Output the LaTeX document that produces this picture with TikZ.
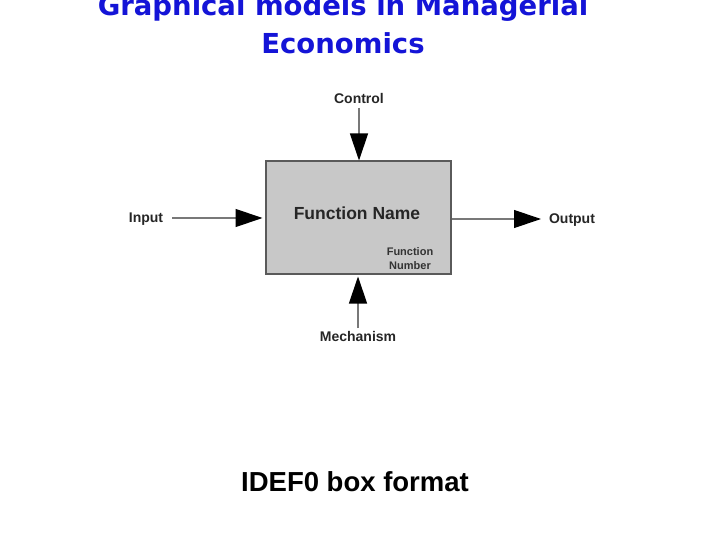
\documentclass[tikz,border=0pt]{standalone}
\usepackage{fontspec}
\setmainfont{DejaVu Sans}
\newfontfamily\arialfont{Liberation Sans}
\usetikzlibrary{arrows.meta}
\definecolor{titleblue}{RGB}{20,20,215}
\definecolor{boxfill}{RGB}{200,200,200}
\definecolor{boxedge}{RGB}{90,90,90}
\definecolor{linegray}{RGB}{120,120,120}
\tikzset{
  lbl/.style={font=\arialfont\bfseries\fontsize{14}{16}\selectfont, text=black!85, inner sep=0pt},
  flow/.style={draw=linegray, line width=1.2pt, -{Triangle[length=27pt,width=18pt,fill=black,color=black]}},
}
\begin{document}
\begin{tikzpicture}[x=1pt,y=-1pt]
\useasboundingbox[fill=white] (0,0) rectangle (720,540);
\node[font=\bfseries\fontsize{27.5}{38}\selectfont, text=titleblue, align=center, anchor=base] (title) at (343,54) {Graphical models in Managerial\\Economics};
\node[draw=boxedge, line width=2pt, fill=boxfill, minimum width=185pt, minimum height=112pt, inner sep=0pt] (box) at (358,217.5) {};
\node[font=\arialfont\bfseries\fontsize{17.5}{20}\selectfont, text=black!85] (fname) at (357,213) {Function Name};
\node[font=\arialfont\bfseries\fontsize{11}{14}\selectfont, text=black!80, align=center] (fnum) at (410,259) {Function\\Number};
\node[lbl] (ctrl) at (359,98) {Control};
\node[lbl] (inp) at (146,219) {Input};
\node[lbl] (outp) at (572,220) {Output};
\node[lbl] (mech) at (358,336) {Mechanism};
\coordinate (ctop) at (359,108);
\coordinate (mbot) at (358,328);
\coordinate (ileft) at (172,218);
\coordinate (oright) at (541,219);
\draw[flow] (ctop) -- (box.north -| ctop);
\draw[flow] (mbot) -- ([yshift=-2pt]box.south -| mbot);
\draw[flow] (ileft) -- ([xshift=-2pt]box.west |- ileft);
\draw[flow] (box.east |- oright) -- (oright);
\node[font=\arialfont\bfseries\fontsize{27.5}{30}\selectfont, anchor=base] (cap) at (355,491) {IDEF0 box format};
\end{tikzpicture}
\end{document}
